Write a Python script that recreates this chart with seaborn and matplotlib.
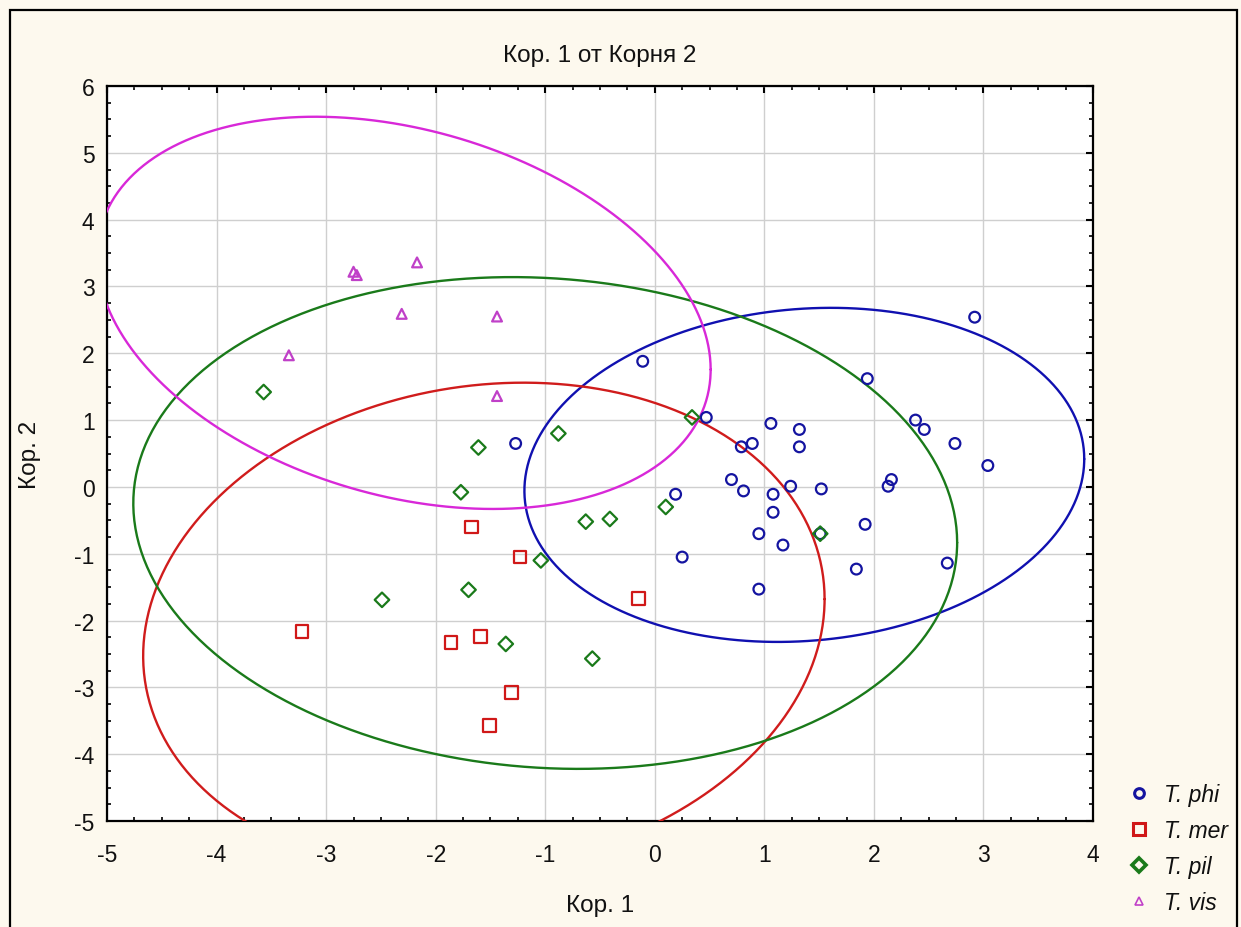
import numpy as np
import pandas as pd
import matplotlib
matplotlib.use("Agg")
import matplotlib.pyplot as plt
from matplotlib.lines import Line2D
from matplotlib.patches import Rectangle
from matplotlib.ticker import MultipleLocator
import seaborn as sns

# ---------------- data ----------------
species = ["T. phi", "T. mer", "T. pil", "T. vis"]

phi_x = [2.92, -0.11, 1.94, 0.47, 1.06, 1.32, 1.32, 2.38, 2.46, 2.74, 3.04, -1.27,
         0.79, 0.89, 0.70, 0.81, 1.08, 1.24, 1.52, 2.16, 2.13, 0.19, 1.08, 0.95,
         1.17, 1.92, 0.25, 2.67, 1.84, 0.95, 1.51]
phi_y = [2.54, 1.88, 1.62, 1.04, 0.95, 0.86, 0.60, 1.00, 0.86, 0.65, 0.32, 0.65,
         0.60, 0.65, 0.11, -0.06, -0.11, 0.01, -0.03, 0.11, 0.01, -0.11, -0.38, -0.70,
         -0.87, -0.56, -1.05, -1.14, -1.23, -1.53, -0.70]

mer_x = [-1.67, -1.23, -0.15, -3.22, -1.86, -1.59, -1.31, -1.51]
mer_y = [-0.60, -1.05, -1.67, -2.16, -2.33, -2.24, -3.08, -3.57]

pil_x = [-3.57, -1.61, -0.88, -1.77, 0.34, 0.10, -0.63, -0.41, -1.04, 1.51,
         -1.70, -2.49, -1.36, -0.57]
pil_y = [1.42, 0.59, 0.80, -0.08, 1.04, -0.30, -0.52, -0.48, -1.10, -0.70,
         -1.54, -1.69, -2.35, -2.57]

vis_x = [-2.75, -2.72, -2.17, -2.31, -1.44, -3.34, -1.44]
vis_y = [3.22, 3.17, 3.36, 2.59, 2.55, 1.97, 1.36]

# confidence ellipses: centre, half-extent in x / y, correlation
ell_cx = [1.365, -1.56, -1.00, -2.29]
ell_cy = [0.18, -2.105, -0.54, 2.605]
ell_sx = [2.555, 3.11, 3.76, 2.80]
ell_sy = [2.50, 3.665, 3.68, 2.935]
ell_rho = [0.095, 0.116, -0.08, -0.289]

x_ticks = [-5, -4, -3, -2, -1, 0, 1, 2, 3, 4]
y_ticks = [-5, -4, -3, -2, -1, 0, 1, 2, 3, 4, 5, 6]

# ---------------- styling ----------------
pt_colors = ["#1414a0", "#d01818", "#1a7a1a", "#c040c8"]
ln_colors = ["#1010b0", "#d01c1c", "#1a7a1a", "#d828d8"]
markers = ["o", "s", "D", "^"]
sizes = [60, 85, 55, 50]

sns.set_theme(style="white")
plt.rcParams["font.family"] = ["Liberation Sans", "DejaVu Sans"]
plt.rcParams["axes.unicode_minus"] = False

bg = "#fdf9ee"
fig = plt.figure(figsize=(12.41, 9.28), dpi=100, facecolor=bg)
ax = fig.add_axes([107 / 1241, 1 - 822 / 928, (1093 - 107) / 1241, (822 - 87) / 928])
ax.set_facecolor("white")

df = pd.DataFrame({
    "x": phi_x + mer_x + pil_x + vis_x,
    "y": phi_y + mer_y + pil_y + vis_y,
    "sp": [species[0]] * len(phi_x) + [species[1]] * len(mer_x)
          + [species[2]] * len(pil_x) + [species[3]] * len(vis_x),
})

# ellipses
t = np.linspace(0, 2 * np.pi, 400)
for i in range(4):
    ex = ell_cx[i] + ell_sx[i] * np.cos(t)
    ey = ell_cy[i] + ell_sy[i] * (ell_rho[i] * np.cos(t)
                                   + np.sqrt(1 - ell_rho[i] ** 2) * np.sin(t))
    ax.plot(ex, ey, color=ln_colors[i], lw=1.7, zorder=3)

# points
for i, sp in enumerate(species):
    sub = df[df["sp"] == sp]
    sns.scatterplot(data=sub, x="x", y="y", marker=markers[i], s=sizes[i],
                    color=pt_colors[i], ax=ax, zorder=4, legend=False)
    coll = ax.collections[-1]
    coll.set_facecolor("none")
    coll.set_edgecolor(pt_colors[i])
    coll.set_linewidth(1.6)

ax.set_xlim(-5, 4)
ax.set_ylim(-5, 6)
ax.set_xticks(x_ticks)
ax.set_yticks(y_ticks)
ax.xaxis.set_minor_locator(MultipleLocator(0.25))
ax.yaxis.set_minor_locator(MultipleLocator(0.25))
ax.set_xlabel("")
ax.set_ylabel("")
ax.grid(True, which="major", color="#cfcfcf", lw=1.0, zorder=0)
ax.set_axisbelow(True)
for s in ax.spines.values():
    s.set_visible(True)
    s.set_color("black")
    s.set_linewidth(1.6)
ax.tick_params(which="major", direction="in", length=5, width=1.5, color="black",
               top=True, right=True, labelsize=16.5, labelcolor="#111111")
ax.tick_params(axis="x", which="major", pad=16)
ax.tick_params(axis="y", which="major", pad=9)
ax.tick_params(which="minor", direction="in", length=3, width=1.2, color="black",
               top=True, right=True, bottom=True, left=True)

# texts
fig.text(600 / 1241, 1 - 56 / 928, "Кор. 1 от Корня 2", ha="center", va="center",
         fontsize=17.5, color="#111111")
fig.text(600 / 1241, 1 - 906 / 928, "Кор. 1", ha="center", va="center",
         fontsize=17.5, color="#111111")
fig.text(30 / 1241, 1 - 455 / 928, "Кор. 2", ha="center", va="center",
         rotation=90, fontsize=17.5, color="#111111")

# legend
handles = [Line2D([], [], ls="none", marker=markers[i], markersize=[7, 8, 7, 6][i],
                  markerfacecolor="none", markeredgecolor=pt_colors[i],
                  markeredgewidth=[2.2, 2.2, 2.6, 1.2][i]) for i in range(4)]
leg = fig.legend(handles, species, loc="upper left",
                 bbox_to_anchor=(1118 / 1241, 1 - 775 / 928),
                 frameon=False, handlelength=1.0, handletextpad=0.6,
                 labelspacing=0.56, borderaxespad=0,
                 prop={"style": "italic", "size": 16.5})
for txt in leg.get_texts():
    txt.set_color("#111111")

# outer frame
fig.patches.append(Rectangle((10 / 1241, -0.05), (1237 - 10) / 1241, 1.05 - 11 / 928,
                             transform=fig.transFigure, fill=False,
                             edgecolor="black", lw=1.6))

fig.savefig("out.png", dpi=100, facecolor=bg)
